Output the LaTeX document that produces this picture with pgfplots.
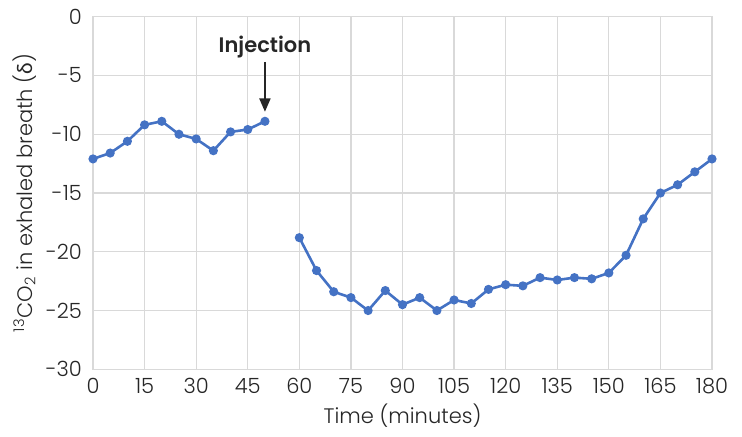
\documentclass[border=0pt]{standalone}
\usepackage{pgfplots}
\pgfplotsset{compat=1.18}
\usetikzlibrary{arrows.meta}
\usepackage{fontspec}
\IfFontExistsTF{Poppins Light}{%
  \IfFontExistsTF{Poppins SemiBold}{%
    \setmainfont{Poppins Light}[BoldFont={Poppins SemiBold}]}{%
    \setmainfont{Poppins Light}[BoldFont={Poppins}]}%
}{\setmainfont{Poppins}}
\newfontfamily\greekfont{Lato}
\definecolor{lineblue}{HTML}{4472C4}
\definecolor{gridgray}{HTML}{D9D9D9}
\definecolor{txt}{HTML}{262626}
\begin{document}
\begin{tikzpicture}
\begin{axis}[
  scale only axis,
  width=309.5pt, height=176.3pt,
  xmin=0, xmax=180, ymin=-30, ymax=0,
  xtick={0,15,...,180}, ytick={-30,-25,...,0},
  grid=major,
  major grid style={gridgray, line width=0.6pt},
  axis line style={gridgray, line width=0.6pt},
  tick style={draw=none},
  /pgf/number format/assume math mode=true,
  tick label style={font=\fontsize{10.5}{12}\selectfont, text=txt},
  xticklabel style={yshift=-1pt},
  yticklabel style={xshift=-2pt},
  xlabel={Time (minutes)},
  ylabel={\textsuperscript{13}CO\textsubscript{2} in exhaled breath ({\greekfont δ})},
  label style={font=\fontsize{10.5}{12}\selectfont, text=txt},
  xlabel style={yshift=2pt},
  ylabel style={yshift=-2pt},
  clip=false,
]
\addplot[lineblue, line width=1.3pt, mark=*, mark size=1.6pt] coordinates {
(0,-12.1) (5,-11.6) (10,-10.6) (15,-9.2) (20,-8.9) (25,-10.0) (30,-10.4) (35,-11.4) (40,-9.8) (45,-9.6) (50,-8.9)
};
\addplot[lineblue, line width=1.3pt, mark=*, mark size=1.6pt] coordinates {
(60,-18.8) (65,-21.6) (70,-23.4) (75,-23.9) (80,-25.0) (85,-23.3) (90,-24.5) (95,-23.9) (100,-25.0) (105,-24.1) (110,-24.4) (115,-23.2) (120,-22.8) (125,-22.9) (130,-22.2) (135,-22.4) (140,-22.2) (145,-22.3) (150,-21.8) (155,-20.3) (160,-17.2) (165,-15.0) (170,-14.3) (175,-13.2) (180,-12.1)
};
\draw[-{Triangle[length=6.7pt,width=5.5pt]}, line width=1pt, txt] (axis cs:50,-3.84) -- (axis cs:50,-8.09);
\node[font=\fontsize{10.5}{12}\selectfont\bfseries, text=txt] at (axis cs:50,-2.58) {Injection};
\end{axis}
\pgfresetboundingbox
\path[use as bounding box] (-46.5pt,-33.35pt) rectangle (324.5pt,184.65pt);
\end{tikzpicture}
\end{document}
